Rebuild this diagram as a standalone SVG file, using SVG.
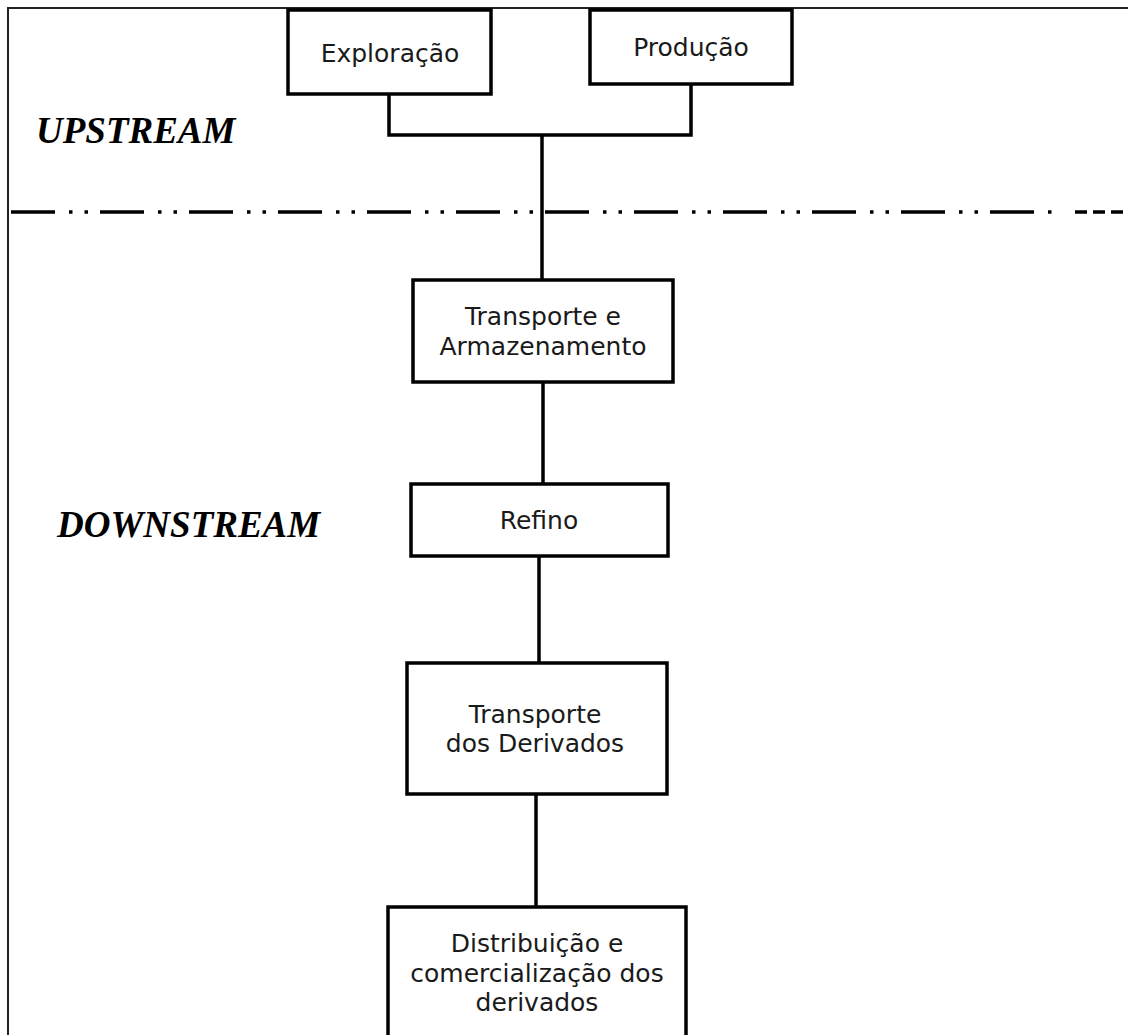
<svg xmlns="http://www.w3.org/2000/svg" width="1128" height="1035" viewBox="0 0 1128 1035">
<style>
.box{fill:#fff;stroke:#000;stroke-width:3.5}
.lbl{font-family:"DejaVu Sans",Verdana,sans-serif;font-size:25px;fill:#1a1a1a;text-anchor:middle}
.zone{font-family:"Liberation Serif","Times New Roman",serif;font-size:37px;font-weight:bold;font-style:italic;fill:#000}
.conn{fill:none;stroke:#000;stroke-width:3.5}
</style>
<rect x="0" y="0" width="1128" height="1035" fill="#fff"/>
<rect id="frame" x="8" y="8" width="1140" height="1060" fill="none" stroke="#222" stroke-width="2"/>
<text class="zone" x="36" y="143">UPSTREAM</text>
<text class="zone" x="57" y="537">DOWNSTREAM</text>
<g id="divider">
<line x1="11" y1="212" x2="1062" y2="212" stroke="#000" stroke-width="3.5" stroke-dasharray="44 14 3.5 12 3.5 12"/>
<line x1="1075" y1="212" x2="1128" y2="212" stroke="#000" stroke-width="3.5" stroke-dasharray="12 6"/>
</g>
<g id="connectors">
<polyline class="conn" points="389,94 389,135 691,135 691,84"/>
<line class="conn" x1="542" y1="135" x2="542" y2="280"/>
<line class="conn" x1="543" y1="382" x2="543" y2="484"/>
<line class="conn" x1="539" y1="556" x2="539" y2="662"/>
<line class="conn" x1="536" y1="794" x2="536" y2="907"/>
</g>
<g id="exploracao">
<rect class="box" x="288" y="10" width="203" height="84"/>
<text class="lbl" x="390" y="62">Exploração</text>
</g>
<g id="producao">
<rect class="box" x="590" y="10" width="202" height="74"/>
<text class="lbl" x="691" y="56">Produção</text>
</g>
<g id="transporte-armazenamento">
<rect class="box" x="413" y="280" width="260" height="102"/>
<text class="lbl" x="543" y="325">Transporte e</text>
<text class="lbl" x="543" y="355">Armazenamento</text>
</g>
<g id="refino">
<rect class="box" x="411" y="484" width="257" height="72"/>
<text class="lbl" x="539" y="529">Refino</text>
</g>
<g id="transporte-derivados">
<rect class="box" x="407" y="663" width="260" height="131"/>
<text class="lbl" x="535" y="723">Transporte</text>
<text class="lbl" x="535" y="752">dos Derivados</text>
</g>
<g id="distribuicao">
<rect class="box" x="388" y="907" width="298" height="140"/>
<text class="lbl" x="537" y="952">Distribuição e</text>
<text class="lbl" x="537" y="982">comercialização dos</text>
<text class="lbl" x="537" y="1011">derivados</text>
</g>
</svg>
